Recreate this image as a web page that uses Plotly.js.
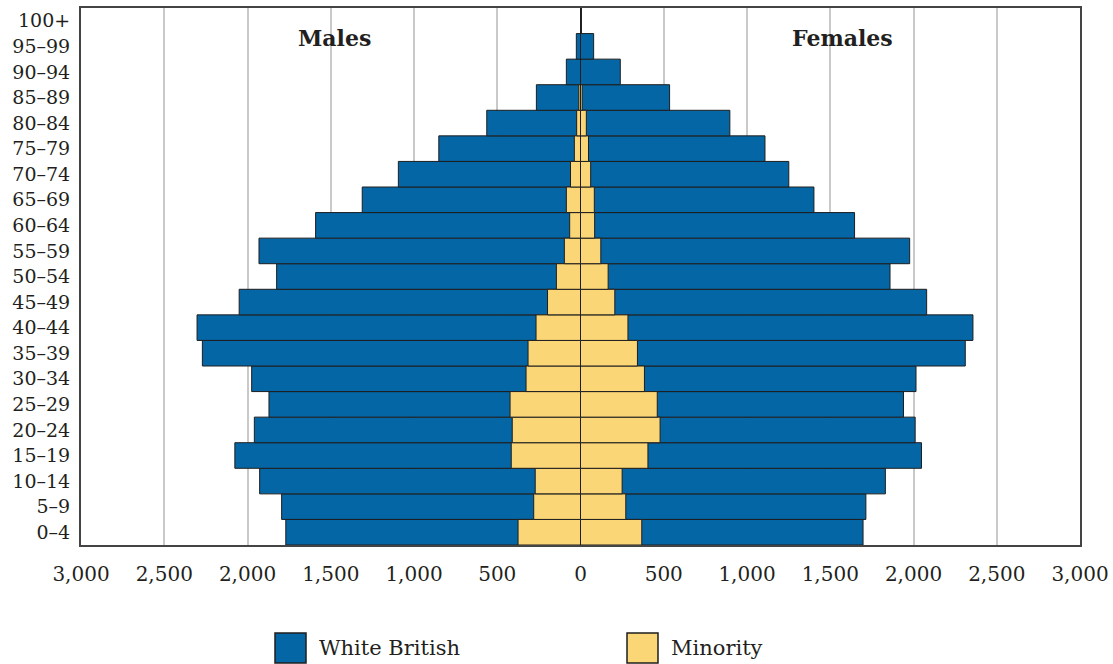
<!DOCTYPE html>
<html>
<head>
<meta charset="utf-8">
<script src="https://cdn.plot.ly/plotly-3.0.1.min.js"></script>
<style>html,body{margin:0;padding:0;background:#fff;}#chart{width:1113px;height:664px;}</style>
</head>
<body>
<div id="chart"></div>
<script>
// Age groups (bottom to top)
const ageGroups = ['0–4','5–9','10–14','15–19','20–24','25–29','30–34','35–39','40–44','45–49','50–54','55–59','60–64','65–69','70–74','75–79','80–84','85–89','90–94','95–99','100+'];

// White British (outer bar length), thousands
const malesWhiteBritish   = [1770,1795,1927,2076,1959,1871,1975,2271,2303,2050,1825,1931,1591,1311,1094,851,563,265,85,25,0];
const femalesWhiteBritish = [1697,1714,1831,2048,2010,1940,2015,2311,2357,2079,1859,1977,1646,1402,1251,1108,897,535,239,79,0];

// Minority
const malesMinority   = [375,281,272,416,410,423,327,315,267,198,145,97,65,85,60,37,23,10,0,0,0];
const femalesMinority = [368,272,250,405,478,461,384,342,285,206,166,122,85,83,61,48,35,10,0,0,0];

// Axis ticks
const tickValues = [-3000,-2500,-2000,-1500,-1000,-500,0,500,1000,1500,2000,2500,3000];
const tickLabels = ['3,000','2,500','2,000','1,500','1,000','500','0','500','1,000','1,500','2,000','2,500','3,000'];

// Series names and colours
const seriesNames = ['White British','Minority'];
const seriesColors = ['#0466a5','#fbd677'];

const edge = {color:'#1e1e1e', width:1};
const neg = a => a.map(v => -v);

const traces = [
  {type:'bar', orientation:'h', y:ageGroups, x:neg(malesWhiteBritish), name:seriesNames[0],
   marker:{color:seriesColors[0], line:edge}, hoverinfo:'skip'},
  {type:'bar', orientation:'h', y:ageGroups, x:femalesWhiteBritish, name:seriesNames[0],
   marker:{color:seriesColors[0], line:edge}, hoverinfo:'skip'},
  {type:'bar', orientation:'h', y:ageGroups, x:neg(malesMinority), name:seriesNames[1],
   marker:{color:seriesColors[1], line:edge}, hoverinfo:'skip'},
  {type:'bar', orientation:'h', y:ageGroups, x:femalesMinority, name:seriesNames[1],
   marker:{color:seriesColors[1], line:edge}, hoverinfo:'skip'}
];

const fam = '"DejaVu Serif", "Liberation Serif", serif';
const txt = '#231f20';

// Legend drawn as paper-referenced boxes + text (large swatches like the original)
const W = 1113, H = 664, L = 81, R = 33, T = 8, B = 119;
const pw = W - L - R, ph = H - T - B;
const px = x => (x - L) / pw;
const py = y => (H - B - y) / ph;
const legendBoxX = [275, 627];
const shapes = [], legendAnn = [];
seriesNames.forEach((n, i) => {
  shapes.push({type:'rect', xref:'paper', yref:'paper',
    x0:px(legendBoxX[i]), x1:px(legendBoxX[i] + 31), y0:py(663), y1:py(633),
    fillcolor:seriesColors[i], line:{color:'#1e1e1e', width:1.5}});
  legendAnn.push({text:n, xref:'paper', yref:'paper', x:px(legendBoxX[i] + 42), y:py(648),
    xanchor:'left', yanchor:'middle', showarrow:false, font:{family:fam, size:21, color:txt}});
});

const layout = {
  width:W, height:H,
  margin:{l:L, r:R, t:T, b:B, pad:0, autoexpand:false},
  paper_bgcolor:'#ffffff', plot_bgcolor:'#ffffff',
  barmode:'overlay', bargap:0,
  font:{family:fam, size:19, color:txt},
  showlegend:false,
  xaxis:{range:[-3000,3000], tickvals:tickValues, ticktext:tickLabels,
         showgrid:true, gridcolor:'#c9c9c9', gridwidth:2,
         zeroline:true, zerolinecolor:'#222', zerolinewidth:2,
         showline:true, linecolor:'#444', linewidth:2, mirror:true,
         ticks:'outside', ticklen:10, tickcolor:'rgba(0,0,0,0)',
         tickfont:{family:fam, size:20, color:txt}, fixedrange:true, automargin:false},
  yaxis:{type:'category', categoryorder:'array', categoryarray:ageGroups,
         showgrid:false, zeroline:false,
         showline:true, linecolor:'#444', linewidth:2, mirror:true,
         ticks:'outside', ticklen:5, tickcolor:'rgba(0,0,0,0)',
         tickfont:{family:fam, size:19, color:txt}, fixedrange:true, automargin:false},
  shapes:shapes,
  annotations:[
    {text:'<b>Males</b>', x:-1475, y:'95–99', xref:'x', yref:'y', showarrow:false,
     yshift:8, font:{family:fam, size:22, color:txt}},
    {text:'<b>Females</b>', x:1575, y:'95–99', xref:'x', yref:'y', showarrow:false,
     yshift:8, font:{family:fam, size:22, color:txt}}
  ].concat(legendAnn)
};

Plotly.newPlot('chart', traces, layout, {displayModeBar:false, staticPlot:true});
</script>
</body>
</html>
